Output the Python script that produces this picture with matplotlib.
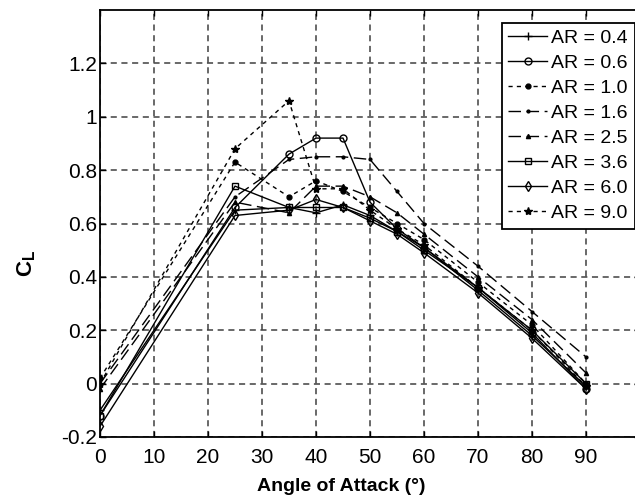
import matplotlib
matplotlib.use("Agg")
import matplotlib.pyplot as plt

plt.rcParams['font.family'] = ['Liberation Sans', 'DejaVu Sans']
plt.rcParams['mathtext.fontset'] = 'custom'
plt.rcParams['mathtext.rm'] = 'Liberation Sans'
plt.rcParams['mathtext.bf'] = 'Liberation Sans:bold'

# angle of attack (deg)
angles = [0, 25, 35, 40, 45, 50, 55, 60, 70, 80, 90]

# lift coefficient per aspect ratio
cl_ar04 = [-0.10, 0.65, 0.66, 0.64, 0.67, 0.63, 0.57, 0.51, 0.35, 0.18, -0.01]
cl_ar06 = [-0.12, 0.66, 0.86, 0.92, 0.92, 0.68, 0.58, 0.51, 0.36, 0.19, -0.02]
cl_ar10 = [0.02, 0.83, 0.70, 0.76, 0.72, 0.66, 0.60, 0.54, 0.38, 0.22, 0.00]
cl_ar16 = [0.00, 0.70, 0.84, 0.85, 0.85, 0.84, 0.72, 0.60, 0.44, 0.27, 0.10]
cl_ar25 = [-0.02, 0.68, 0.64, 0.74, 0.74, 0.70, 0.64, 0.56, 0.40, 0.24, 0.04]
cl_ar36 = [-0.12, 0.74, 0.66, 0.66, 0.66, 0.62, 0.57, 0.50, 0.36, 0.20, 0.00]
cl_ar60 = [-0.16, 0.63, 0.65, 0.69, 0.66, 0.61, 0.56, 0.49, 0.34, 0.17, -0.02]
cl_ar90 = [0.00, 0.88, 1.06, 0.73, 0.73, 0.65, 0.58, 0.52, 0.36, 0.20, -0.01]

labels = ["AR = 0.4", "AR = 0.6", "AR = 1.0", "AR = 1.6",
          "AR = 2.5", "AR = 3.6", "AR = 6.0", "AR = 9.0"]
series = [cl_ar04, cl_ar06, cl_ar10, cl_ar16, cl_ar25, cl_ar36, cl_ar60, cl_ar90]

styles = [
    dict(ls='-', marker='+', ms=6),
    dict(ls='-', marker='o', ms=5, mfc='none'),
    dict(ls=(0, (3, 3)), marker='.', ms=7),
    dict(ls=(0, (9, 4)), marker='.', ms=4),
    dict(ls=(0, (9, 4)), marker='^', ms=3),
    dict(ls='-', marker='s', ms=5, mfc='none'),
    dict(ls='-', marker='d', ms=5, mfc='none'),
    dict(ls=(0, (3, 3)), marker='*', ms=6),
]

fig = plt.figure(figsize=(6.35, 4.97), dpi=100)
ax = fig.add_axes([100/635, 60/497, 540/635, 427/497])

for y, lab, st in zip(series, labels, styles):
    ax.plot(angles, y, color='black', lw=1.0, label=lab, **st)

ax.set_xlim(0, 100)
ax.set_ylim(-0.2, 1.4)
ax.set_xticks(range(0, 91, 10))
ax.set_yticks([-0.2, 0, 0.2, 0.4, 0.6, 0.8, 1.0, 1.2])
ax.set_yticklabels(['-0.2', '0', '0.2', '0.4', '0.6', '0.8', '1', '1.2'])
ax.tick_params(direction='in', top=True, right=True, labelsize=15, length=4, width=1)
ax.tick_params(axis='y', pad=2)
ax.tick_params(axis='x', pad=8)
for s in ax.spines.values():
    s.set_linewidth(1.3)
ax.grid(True, color='0.25', ls=(0, (4, 3)), lw=1.1)

ax.set_xlabel("Angle of Attack (°)", fontsize=14, fontweight='bold')
ax.xaxis.set_label_coords(0.446, -0.095)
ax.set_ylabel(r"$\mathbf{C_L}$", fontsize=16)
ax.yaxis.set_label_coords(-0.115, 0.407)

# legend box sits just inside the visible part of the frame
leg = ax.legend(loc='upper right', bbox_to_anchor=(0.99, 0.97), fontsize=14,
                frameon=True, fancybox=False, edgecolor='black', framealpha=1,
                labelspacing=0.38, borderpad=0.35, handlelength=2.0,
                handletextpad=0.2, borderaxespad=0)
leg.get_frame().set_linewidth(1.3)

fig.savefig("out.png", dpi=100)
